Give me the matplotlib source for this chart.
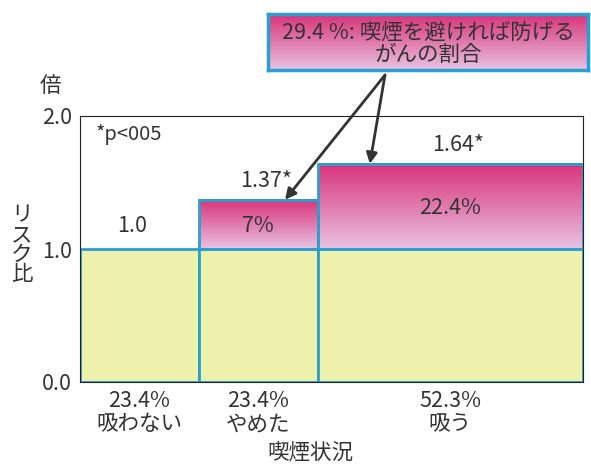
import numpy as np
import matplotlib.pyplot as plt
from matplotlib.patches import Rectangle

plt.rcParams['font.family'] = ['Noto Sans CJK JP', 'DejaVu Sans']

# data
groups = ["吸わない", "やめた", "吸う"]
shares = [23.4, 23.4, 52.3]          # % of people, used as bar widths
risk = [1.0, 1.37, 1.64]             # risk ratio
risk_labels = ["1.0", "1.37*", "1.64*"]
excess_labels = ["", "7%", "22.4%"]
total_label = "29.4 %: 喫煙を避ければ防げる\nがんの割合"

yellow = "#eef1ab"
edge = "#2a9fd0"
txt = "#333333"
fs = 15.5

fig = plt.figure(figsize=(5.91, 4.66), dpi=100)
ax = fig.add_axes([80/591, 1-382/466, 503/591, 266/466])

lefts = np.concatenate([[0], np.cumsum(shares)[:-1]])
grad = np.linspace(0, 1, 100).reshape(-1, 1)
cmap = plt.matplotlib.colors.LinearSegmentedColormap.from_list("pk", ["#d8337a", "#e8c2e2"])

for x0, w, r, rl, el in zip(lefts, shares, risk, risk_labels, excess_labels):
    ax.add_patch(Rectangle((x0, 0), w, 1.0, facecolor=yellow, edgecolor=edge, lw=2, zorder=2))
    if r > 1.0:
        ax.imshow(grad, cmap=cmap, extent=(x0, x0 + w, 1.0, r), aspect='auto', zorder=1.5)
        ax.add_patch(Rectangle((x0, 1.0), w, r - 1.0, facecolor='none', edgecolor=edge, lw=2, zorder=3))
        ax.text(x0 + w/2, (1.0 + r)/2 - 0.01, el, ha='center', va='center', fontsize=fs, color=txt, zorder=4)
        ax.text(x0 + w/2 + 1.5, r + 0.14, rl, ha='center', va='center', fontsize=fs, color=txt)
    else:
        ax.text(x0 + w/2 - 1.5, r + 0.17, rl, ha='center', va='center', fontsize=fs, color=txt)

ax.set_xlim(0, sum(shares))
ax.set_ylim(0, 2.0)
ax.set_yticks([0, 1.0, 2.0])
ax.set_yticklabels(["0.0", "1.0", "2.0"], fontsize=fs, color=txt)
ax.set_xticks(lefts + np.array(shares)/2)
ax.set_xticklabels([f"{s}%\n{g}" for s, g in zip(shares, groups)], fontsize=fs,
                   color=txt, linespacing=1.05)
ax.tick_params(length=0, pad=6)
for s in ax.spines.values():
    s.set_linewidth(0.8)
    s.set_color("#222222")
fig.text(310/591, 1-453/466, "喫煙状況", fontsize=fs, color=txt, ha='center', va='center')

ax.text(3, 1.86, "*p<005", fontsize=fs - 1, color=txt, va='center')
fig.text(50/591, 1-86/466, "倍", fontsize=fs, color=txt, ha='center', va='center')
fig.text(22/591, 1-245/466, "リ\nス\nク\n比", fontsize=fs, color=txt, ha='center', va='center',
         linespacing=0.85)

# annotation box with gradient
bax = fig.add_axes([268/591, 1-70/466, 320/591, 56/466])
bax.imshow(grad, cmap=cmap, extent=(0, 1, 0, 1), aspect='auto')
bax.set_xticks([])
bax.set_yticks([])
for s in bax.spines.values():
    s.set_color(edge)
    s.set_linewidth(2.5)
bax.text(0.5, 0.47, total_label, ha='center', va='center', fontsize=fs, color=txt,
         linespacing=1.05, transform=bax.transAxes)

start = (385/591, 1-75/466)
for tx, ty in [(40.4, risk[1]), (57.1, risk[2])]:
    ax.annotate("", xy=(tx, ty), xytext=start, textcoords='figure fraction',
                arrowprops=dict(arrowstyle='-|>', color="#333333", lw=2, mutation_scale=16,
                                shrinkA=0, shrinkB=0),
                annotation_clip=False, zorder=5)

fig.savefig("out.png", dpi=100)
